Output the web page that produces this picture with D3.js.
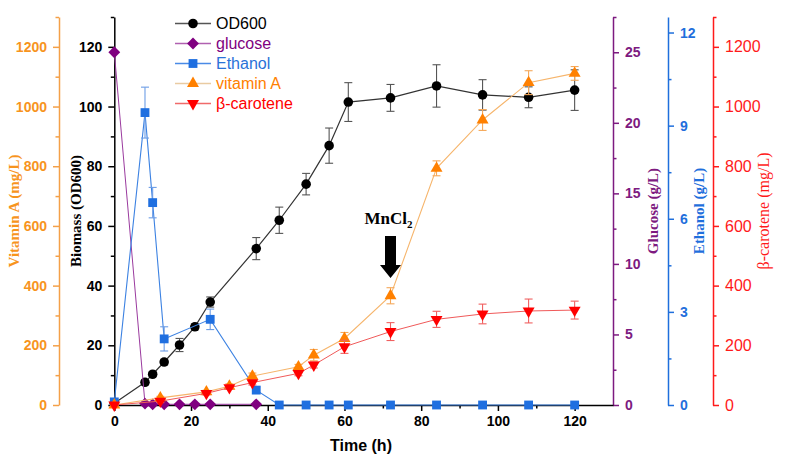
<!DOCTYPE html>
<html><head><meta charset="utf-8">
<script src="https://cdn.jsdelivr.net/npm/d3@7"></script>
<style>body{margin:0;background:#fff}</style>
</head><body><svg id="c" width="787" height="459"></svg>
<script>
// ---- data ----
const timeOD = [0,8,10,13,17,21,25,37,43,50,56,61,72,84,96,108,120];
const od600 = [0.6,7.6,10.3,14.4,20.1,26.2,34.5,52.4,61.9,74,86.9,101.5,102.9,106.9,103.9,103.1,105.5];
const od600Err = [0.3,0.8,0.8,0.9,2.2,1.0,1.7,3.7,4.4,3.6,5.9,6.5,4.5,7.1,5.1,3.5,6.8];

const timeGlucose = [0,8,10,13,17,21,25,37];
const glucose = [25.0,0.1,0.05,0.05,0.05,0.05,0.05,0.05];

const timeEthanol = [0,8,10,13,25,37,43,50,56,61,72,84,96,108,120];
const ethanol = [0.1,9.42,6.52,2.13,2.76,0.48,0,0,0,0,0,0,0,0,0];
const ethanolErr = [0,0.82,0.49,0.39,0.33,0.1,0,0,0,0,0,0,0,0,0];

const timeProd = [0,12,24,30,36,48,52,60,72,84,96,108,120];
const vitaminA = [0,24,44,63,97,128,167,223,366,793,955,1080,1111];
const vitaminAErr = [0,5,5,8,10,8,19,20,27,25,35,40,23];
const betaCarotene = [0,13,39,58,75,106,134,195,246,287,305,315,318];
const betaCaroteneErr = [0,5,5,6,8,8,10,22,30,27,33,40,30];

const xTicks = [0,20,40,60,80,100,120];
const xMinor = [10,30,50,70,90,110];
const odTicks = [0,20,40,60,80,100,120];
const odMinor = [10,30,50,70,90,110,130];
const vaTicks = [0,200,400,600,800,1000,1200];
const vaMinor = [100,300,500,700,900,1100,1300];
const gluTicks = [0,5,10,15,20,25];
const gluMinor = [2.5,7.5,12.5,17.5,22.5,27.5];
const ethTicks = [0,3,6,9,12];
const ethMinor = [1.5,4.5,7.5,10.5];
const bcTicks = [0,200,400,600,800,1000,1200];
const bcMinor = [100,300,500,700,900,1100,1300];

const legendNames = ["OD600","glucose","Ethanol","vitamin A","β-carotene"];

// ---- layout ----
const svg = d3.select("#c");
const yTop = 17, yBottom = 405;
const x = d3.scaleLinear().domain([0,130]).range([114.3,613]);
const yOD = d3.scaleLinear().domain([0,130]).range([yBottom,yTop]);
const yVA = d3.scaleLinear().domain([0,1300]).range([yBottom,yTop]);
const yGlu = d3.scaleLinear().domain([0,27.5]).range([yBottom,yTop]);
const yEth = d3.scaleLinear().domain([0,12.5]).range([yBottom,yTop]);
const yBC = d3.scaleLinear().domain([0,1300]).range([yBottom,yTop]);

const C = {
  orange:"#f7941d", orangeAxis:"#f4a048", purple:"#7d1a80", blue:"#1f6fdc", red:"#ff1a1a"
};

function yAxis(scale, xpos, side, ticks, minor, color, font, weight, size){
  const mk = side==="left" ? d3.axisLeft : d3.axisRight;
  const g = svg.append("g").attr("transform",`translate(${xpos},0)`);
  g.call(mk(scale).tickValues(ticks).tickSize(6).tickPadding(6).tickSizeOuter(0).tickFormat(d3.format("d")));
  const gm = svg.append("g").attr("transform",`translate(${xpos},0)`);
  gm.call(mk(scale).tickValues(minor).tickSize(3.5).tickSizeOuter(0).tickFormat(""));
  gm.select(".domain").remove();
  [g,gm].forEach(s=>{
    s.selectAll("path,line").attr("stroke",color).attr("stroke-width",1.5);
  });
  g.selectAll("text").attr("fill",color).style("font-family",font).style("font-weight",weight).style("font-size",size+"px");
  return g;
}

yAxis(yVA, 59, "left", vaTicks, vaMinor, C.orangeAxis, "Liberation Sans, Arial", "bold", 14)
  .selectAll("text").attr("fill",C.orange);
yAxis(yOD, 114.3, "left", odTicks, odMinor, "#000", "Liberation Sans, Arial", "bold", 14);
yAxis(yGlu, 613, "right", gluTicks, gluMinor, C.purple, "Liberation Sans, Arial", "bold", 14);
yAxis(yEth, 668, "right", ethTicks, ethMinor, C.blue, "Liberation Sans, Arial", "bold", 14);
yAxis(yBC, 713, "right", bcTicks, bcMinor, C.red, "Liberation Sans, Arial", "normal", 16);

// x axis
const gx = svg.append("g").attr("transform",`translate(0,${yBottom})`);
gx.call(d3.axisBottom(x).tickValues(xTicks).tickSize(6).tickPadding(5).tickSizeOuter(0));
const gxm = svg.append("g").attr("transform",`translate(0,${yBottom})`);
gxm.call(d3.axisBottom(x).tickValues(xMinor).tickSize(3.5).tickSizeOuter(0).tickFormat(""));
gxm.select(".domain").remove();
[gx,gxm].forEach(s=>s.selectAll("path,line").attr("stroke","#000").attr("stroke-width",1.5));
gx.selectAll("text").attr("fill","#000").style("font-family","Liberation Sans, Arial").style("font-weight","bold").style("font-size","14px");

// axis titles
function vTitle(txt, xpos, color, weight, size){
  svg.append("text").attr("transform",`translate(${xpos},211) rotate(-90)`)
    .attr("text-anchor","middle").attr("fill",color)
    .style("font-family","Liberation Serif, Times New Roman").style("font-weight",weight).style("font-size",size+"px")
    .text(txt);
}
vTitle("Vitamin A (mg/L)", 19, C.orange, "bold", 15);
vTitle("Biomass (OD600)", 81, "#000", "bold", 15);
vTitle("Glucose (g/L)", 658, C.purple, "bold", 15);
vTitle("Ethanol (g/L)", 704, C.blue, "bold", 15);
vTitle("β-carotene (mg/L)", 769, C.red, "normal", 16);

svg.append("text").attr("x",361).attr("y",451).attr("text-anchor","middle")
  .style("font-family","Liberation Sans, Arial").style("font-weight","bold").style("font-size","16px")
  .text("Time (h)");

// ---- series ----
const sym = {
  circle: d3.symbol().type(d3.symbolCircle).size(72)(),
  diamond: d3.symbol().type(d3.symbolSquare).size(70)(),
  square: d3.symbol().type(d3.symbolSquare).size(78)(),
  triangle: d3.symbol().type(d3.symbolTriangle).size(62)()
};
function series(times, vals, errs, yScale, o){
  const pts = times.map((t,i)=>({t, v:vals[i], e: errs ? errs[i] : 0}));
  const g = svg.append("g");
  g.append("path").datum(pts)
    .attr("d", d3.line().x(d=>x(d.t)).y(d=>yScale(d.v)))
    .attr("fill","none").attr("stroke",o.line).attr("stroke-width",o.lw||1.2);
  if(errs){
    const eb = g.selectAll(".eb").data(pts.filter(d=>d.e>0)).enter().append("g")
      .attr("stroke",o.err).attr("stroke-width",1.1);
    eb.append("line").attr("x1",d=>x(d.t)).attr("x2",d=>x(d.t))
      .attr("y1",d=>yScale(d.v-d.e)).attr("y2",d=>yScale(d.v+d.e));
    eb.append("line").attr("x1",d=>x(d.t)-4).attr("x2",d=>x(d.t)+4)
      .attr("y1",d=>yScale(d.v+d.e)).attr("y2",d=>yScale(d.v+d.e));
    eb.append("line").attr("x1",d=>x(d.t)-4).attr("x2",d=>x(d.t)+4)
      .attr("y1",d=>yScale(d.v-d.e)).attr("y2",d=>yScale(d.v-d.e));
  }
  g.selectAll(".m").data(pts).enter().append("path")
    .attr("d", sym[o.shape])
    .attr("transform", d=>`translate(${x(d.t)},${yScale(d.v)}) rotate(${o.rot||0})`)
    .attr("fill", o.fill);
}

series(timeOD, od600, od600Err, yOD, {line:"#333", err:"#555", fill:"#000", shape:"circle"});
series(timeGlucose, glucose, null, yGlu, {line:"#9a3a9e", fill:"#800080", shape:"diamond", rot:45, lw:1});
series(timeEthanol, ethanol, ethanolErr, yEth, {line:"#3c82e2", err:"#6c9de6", fill:"#1f6fe0", shape:"square", lw:1.1});
series(timeProd, vitaminA, vitaminAErr, yVA, {line:"#f6b56c", err:"#f5a85a", fill:"#ff8000", shape:"triangle", lw:1.1});
series(timeProd, betaCarotene, betaCaroteneErr, yBC, {line:"#f05a5a", err:"#f06060", fill:"#ff0000", shape:"triangle", rot:180, lw:1});

// ---- legend ----
const legendStyle = [
  {line:"#555", fill:"#000", shape:"circle", text:"#000"},
  {line:"#b060b0", fill:"#800080", shape:"diamond", rot:45, text:"#800080"},
  {line:"#4a8ae6", fill:"#1f6fe0", shape:"square", text:"#2a72d8"},
  {line:"#e9cba2", fill:"#ff8000", shape:"triangle", text:"#ff8000"},
  {line:"#f06a6a", fill:"#ff0000", shape:"triangle", rot:180, text:"#ff0000"}
];
const lg = svg.append("g");
legendNames.forEach((n,i)=>{
  const s = legendStyle[i], yy = 23.5 + i*20;
  lg.append("line").attr("x1",175).attr("x2",211).attr("y1",yy).attr("y2",yy)
    .attr("stroke",s.line).attr("stroke-width",1.5);
  lg.append("path").attr("d",sym[s.shape]).attr("transform",`translate(193,${yy}) rotate(${s.rot||0})`).attr("fill",s.fill);
  lg.append("text").attr("x",216).attr("y",yy+5.5).attr("fill",s.text)
    .style("font-family","Liberation Sans, Arial").style("font-size","16px").text(n);
});

// ---- annotation ----
const ax = x(72);
const ann = svg.append("text").attr("x",ax-26).attr("y",224)
  .style("font-family","Liberation Serif, Times New Roman").style("font-weight","bold").style("font-size","17px");
ann.append("tspan").text("MnCl");
ann.append("tspan").attr("dy",4).style("font-size","11px").text("2");
svg.append("path")
  .attr("d",`M${ax-5.5},236 L${ax+5.5},236 L${ax+5.5},265 L${ax+10.5},265 L${ax},278 L${ax-10.5},265 L${ax-5.5},265 Z`)
  .attr("fill","#000");
</script></body></html>
